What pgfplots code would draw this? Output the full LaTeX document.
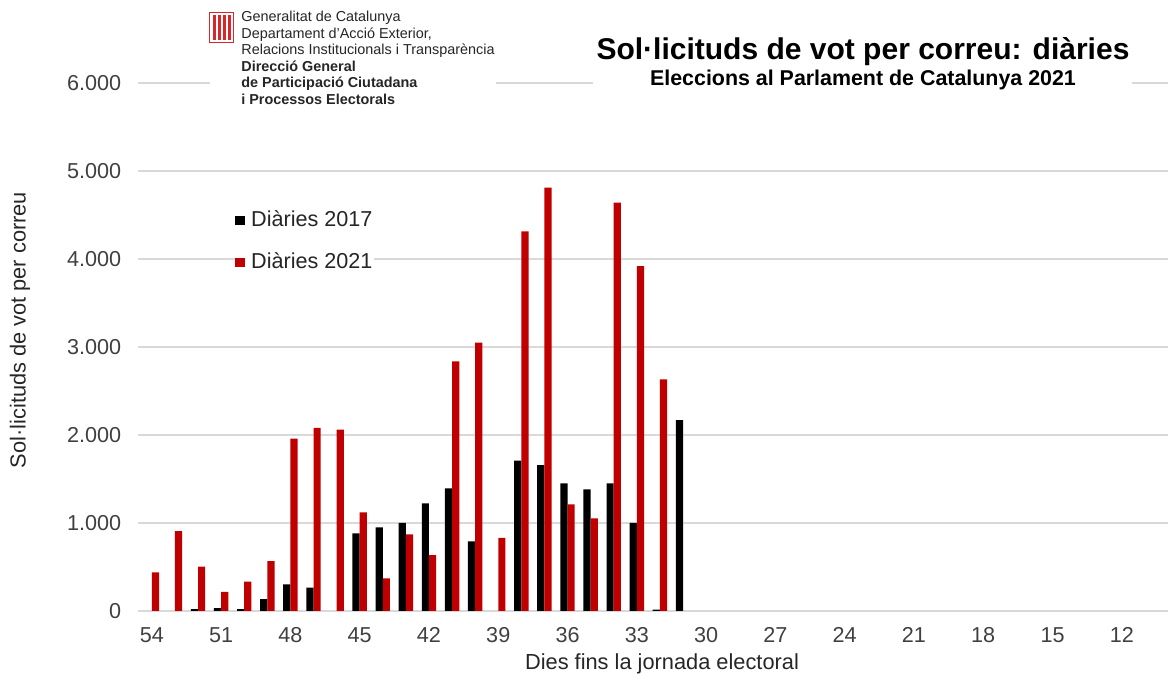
\documentclass[border=0pt]{standalone}
\usepackage{fontspec}
\setmainfont{Liberation Sans}
\usepackage{pgfplots}
\pgfplotsset{compat=1.18}
\definecolor{bar17}{HTML}{000000}
\definecolor{bar21}{HTML}{C00000}
\definecolor{gridc}{HTML}{D9D9D9}
\definecolor{txt}{HTML}{404040}
\definecolor{logored}{HTML}{D8262B}

\begin{document}
\begin{tikzpicture}
\begin{axis}[
  at={(69pt,32pt)}, anchor=south west,
  scale only axis, width=515pt, height=264pt,
  ybar, bar width=3.6pt,
  x dir=reverse,
  xmin=10, xmax=54.6,
  ymin=0, ymax=6000,
  ytick={0,1000,...,6000},
  yticklabels={0,1.000,2.000,3.000,4.000,5.000,6.000},
  xtick={54,51,...,12},
  ymajorgrids, grid style={gridc, line width=0.75pt},
  axis line style={draw=none},
  major tick length=0pt,
  tick label style={font=\fontsize{10.8}{13}\selectfont, text=txt},
  /pgf/number format/assume math mode=true,
  yticklabel style={xshift=-4.9pt},
  xticklabel style={yshift=-4.9pt},
  legend style={at={(0.094,0.7)}, anchor=west, draw=none, fill=white,
    inner sep=0pt, row sep=8pt, column sep=2.2pt,
    font=\fontsize{10.8}{13}\selectfont,
    nodes={inner sep=1pt, text height=8.5pt, text depth=2.5pt, text=black!85}},
  legend cell align=left,
]
% Diàries 2017
\addplot[fill=bar17, draw=none, bar shift=-1.8pt,
  legend image code/.code={\fill[bar17] (0pt,-2.4pt) rectangle (4.8pt,2.4pt);}]
  coordinates {
  (52,20) (51,34) (50,20) (49,136) (48,303) (47,265)
  (45,883) (44,951) (43,1000) (42,1224) (41,1394) (40,792)
  (38,1708) (37,1659) (36,1451) (35,1383) (34,1451) (33,1000)
  (32,15) (31,2170)};
% Diàries 2021
\addplot[fill=bar21, draw=none, bar shift=1.8pt,
  legend image code/.code={\fill[bar21] (0pt,-2.4pt) rectangle (4.8pt,2.4pt);}]
  coordinates {
  (54,440) (53,909) (52,503) (51,216) (50,333) (49,568)
  (48,1960) (47,2080) (46,2060) (45,1121) (44,371) (43,870)
  (42,635) (41,2837) (40,3049) (39,830) (38,4314) (37,4811)
  (36,1212) (35,1053) (34,4640) (33,3920) (32,2633)};
\legend{Diàries 2017, Diàries 2021}
\end{axis}

\begin{scope}[x=0.5pt, y=-0.5pt, yshift=337.5pt]
% logo block
\fill[white] (210,4) rectangle (496,110);
\fill[white] (209,12) rectangle (234,43);
\draw[logored, line width=0.8pt] (209.5,12.5) rectangle (233.5,42.5);
\foreach \sx in {213,218,223,228}
  \fill[logored] (\sx,15) rectangle (\sx+2.5,40);
\node[anchor=north west, align=left, inner sep=0pt, text=black!85,
  font=\fontsize{7.2}{8.25}\selectfont] at (241,11)
  {Generalitat de Catalunya\\Departament d’Acció Exterior,\\Relacions Institucionals i Transparència\\
   \textbf{Direcció General}\\\textbf{de Participació Ciutadana}\\\textbf{i Processos Electorals}};

% titles
\fill[white] (593,28) rectangle (1132,96);
\node[anchor=base, inner sep=0pt, font=\fontsize{15}{18}\selectfont\bfseries] at (863,60)
  {Sol·licituds de vot per correu: diàries};
\node[anchor=base, inner sep=0pt, font=\fontsize{10.7}{13}\selectfont\bfseries] at (863,86)
  {Eleccions al Parlament de Catalunya 2021};

% axis labels
\node[rotate=90, inner sep=0pt, text=black!85, font=\fontsize{10.9}{13}\selectfont] at (20,330)
  {Sol·licituds de vot per correu};
\node[inner sep=0pt, text=black!85, font=\fontsize{10.9}{13}\selectfont] at (662,664)
  {Dies fins la jornada electoral};
\end{scope}

\pgfresetboundingbox
\path[use as bounding box] (0,0) rectangle (584.5pt,337.5pt);
\end{tikzpicture}
\end{document}
